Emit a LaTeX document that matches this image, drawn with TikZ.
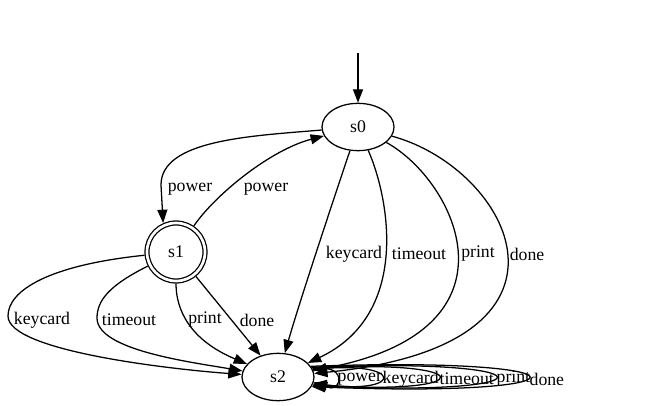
\documentclass[tikz,border=0pt]{standalone}
\usepackage{fontspec}
\setmainfont{Liberation Serif}
\usetikzlibrary{arrows.meta,shapes.geometric}
\begin{document}
\begin{tikzpicture}[x=0.75pt,y=-0.75pt,line width=0.95pt,
  >={Triangle[length=10pt,width=7.5pt]},
  txt/.style={font=\fontsize{13.3}{16}\selectfont},
  state/.style={txt,ellipse,draw,minimum width=54pt,minimum height=35.5pt,inner sep=0pt},
  accept/.style={txt,circle,draw,double,double distance=2pt,minimum size=43.5pt,inner sep=0pt,outer sep=2pt},
  lbl/.style={txt,inner sep=0pt}]
\useasboundingbox (0,0) rectangle (667,406);
% nodes
\node[state] (s0) at (358,127) {s0};
\node[accept] (s1) at (176,252) {s1};
\node[state] (s2) at (278,377) {s2};
\coordinate (init) at (358,53);
% initial arrow
\draw[->] (init) -- (s0);
% s0 <-> s1
\draw[->] (s0) .. controls (250,136) and (161,140) .. (161,185) -- (s1.114);
\draw[->] (s1) .. controls (215,195) and (270,150) .. (s0);
% s0 -> s2
\draw[->] (s0) .. controls (340,180) and (300,300) .. (s2);
\draw[->] (s0) .. controls (390,200) and (410,315) .. (s2);
\draw[->] (s0) .. controls (455,180) and (530,330) .. (s2);
\draw[->] (s0) .. controls (510,168) and (605,345) .. (s2);
% s1 -> s2
\draw[->] (s1) .. controls (50,265) and (8,290) .. (8,316) .. controls (8,352) and (180,370) .. (s2);
\draw[->] (s1) .. controls (110,285) and (97,300) .. (97,318) .. controls (97,350) and (190,362) .. (s2);
\draw[->] (s1) .. controls (176,310) and (190,340) .. (s2);
\draw[->] (s1) -- (s2);
% self loops
\draw[->] (s2.10) .. controls (345,360) and (345,394) .. (s2.-8);
\draw[->] (s2.12) .. controls (405,359) and (405,395) .. (s2.-10);
\draw[->] (s2.14) .. controls (481,358) and (481,396) .. (s2.-12);
\draw[->] (s2.16) .. controls (557,357) and (557,397) .. (s2.-14);
\draw[->] (s2.18) .. controls (601,356) and (601,398) .. (s2.-16);
% labels
\node[lbl] (l1) at (190,189) {power};
\node[lbl] (l2) at (266,189) {power};
\node[lbl] (l3) at (354,254) {keycard};
\node[lbl] (l4) at (419,254) {timeout};
\node[lbl] (l5) at (478,254) {print};
\node[lbl] (l6) at (527,254) {done};
\node[lbl] (l7) at (42,320) {keycard};
\node[lbl] (l8) at (129,320) {timeout};
\node[lbl] (l9) at (205,320) {print};
\node[lbl] (l10) at (257,320) {done};
\node[lbl,anchor=west] (m1) at (337,379) {power};
\node[lbl,anchor=west] (m2) at (382,379) {keycard};
\node[lbl,anchor=west] (m3) at (439,379) {timeout};
\node[lbl,anchor=west] (m4) at (496,379) {print};
\node[lbl,anchor=west] (m5) at (529,379) {done};
\end{tikzpicture}
\end{document}
